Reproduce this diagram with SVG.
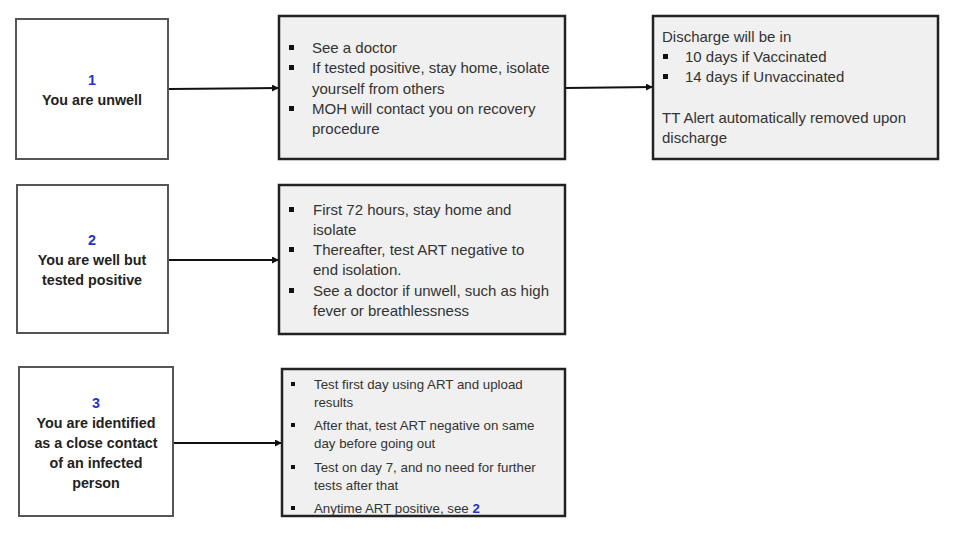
<svg xmlns="http://www.w3.org/2000/svg" width="960" height="551" viewBox="0 0 960 551">
<defs>
<marker id="ah" viewBox="0 0 10 10" refX="10" refY="5" markerWidth="7" markerHeight="7" markerUnits="userSpaceOnUse" orient="auto"><path d="M0,0 L10,5 L0,10 z" fill="#111"/></marker>
<style>
.lbox{fill:#fff;stroke:#555;stroke-width:2}
.rbox{fill:#f0f0f0;stroke:#222;stroke-width:2.5}
.lt{font-family:"Liberation Sans",Arial,sans-serif;font-weight:bold;font-size:14.3px;fill:#222;text-anchor:middle}
.num{fill:#2233cc}
.t{font-family:"Liberation Sans",Arial,sans-serif;font-size:15px;fill:#333}
.s{font-family:"Liberation Sans",Arial,sans-serif;font-size:13.3px;fill:#333}
.b{fill:#111}
.conn{stroke:#111;stroke-width:2;fill:none;marker-end:url(#ah)}
</style>
</defs>
<rect width="960" height="551" fill="#fff"/>
<g id="connectors">
<line class="conn" x1="169" y1="89" x2="279" y2="88"/>
<line class="conn" x1="565" y1="88" x2="653" y2="87"/>
<line class="conn" x1="168" y1="260" x2="279" y2="260"/>
<line class="conn" x1="173" y1="443" x2="282" y2="443"/>
</g>
<g id="n1">
<rect class="lbox" x="16" y="19" width="152" height="140"/>
<text class="lt num" x="92" y="85">1</text>
<text class="lt" x="92" y="105">You are unwell</text>
</g>
<g id="n1a">
<rect class="rbox" x="279" y="16" width="286" height="143"/>
<rect class="b" x="289" y="45" width="5" height="5"/>
<text class="t" x="312" y="53">See a doctor</text>
<rect class="b" x="289" y="65" width="5" height="5"/>
<text class="t" x="312" y="73">If tested positive, stay home, isolate</text>
<text class="t" x="312" y="94">yourself from others</text>
<rect class="b" x="289" y="106" width="5" height="5"/>
<text class="t" x="312" y="114">MOH will contact you on recovery</text>
<text class="t" x="312" y="134">procedure</text>
</g>
<g id="n1b">
<rect class="rbox" x="653" y="16" width="285" height="143"/>
<text class="t" x="662" y="42">Discharge will be in</text>
<rect class="b" x="663" y="54" width="5" height="5"/>
<text class="t" x="685" y="62">10 days if Vaccinated</text>
<rect class="b" x="663" y="74" width="5" height="5"/>
<text class="t" x="685" y="82">14 days if Unvaccinated</text>
<text class="t" x="662" y="123">TT Alert automatically removed upon</text>
<text class="t" x="662" y="143">discharge</text>
</g>
<g id="n2">
<rect class="lbox" x="17" y="185" width="151" height="148"/>
<text class="lt num" x="92" y="245">2</text>
<text class="lt" x="92" y="265">You are well but</text>
<text class="lt" x="92" y="285">tested positive</text>
</g>
<g id="n2a">
<rect class="rbox" x="279" y="185" width="286" height="149"/>
<rect class="b" x="289" y="207" width="5" height="5"/>
<text class="t" x="313" y="215">First 72 hours, stay home and</text>
<text class="t" x="313" y="235">isolate</text>
<rect class="b" x="289" y="247" width="5" height="5"/>
<text class="t" x="313" y="255">Thereafter, test ART negative to</text>
<text class="t" x="313" y="275">end isolation.</text>
<rect class="b" x="289" y="288" width="5" height="5"/>
<text class="t" x="313" y="296">See a doctor if unwell, such as high</text>
<text class="t" x="313" y="316">fever or breathlessness</text>
</g>
<g id="n3">
<rect class="lbox" x="19" y="367" width="154" height="149"/>
<text class="lt num" x="96" y="408">3</text>
<text class="lt" x="96" y="428">You are identified</text>
<text class="lt" x="96" y="448">as a close contact</text>
<text class="lt" x="96" y="468">of an infected</text>
<text class="lt" x="96" y="488">person</text>
</g>
<g id="n3a">
<rect class="rbox" x="282" y="369" width="283" height="147"/>
<rect class="b" x="291" y="382" width="4" height="4"/>
<text class="s" x="314" y="389">Test first day using ART and upload</text>
<text class="s" x="314" y="407">results</text>
<rect class="b" x="291" y="423" width="4" height="4"/>
<text class="s" x="314" y="430">After that, test ART negative on same</text>
<text class="s" x="314" y="448">day before going out</text>
<rect class="b" x="291" y="465" width="4" height="4"/>
<text class="s" x="314" y="472">Test on day 7, and no need for further</text>
<text class="s" x="314" y="490">tests after that</text>
<rect class="b" x="291" y="506" width="4" height="4"/>
<text class="s" x="314" y="513">Anytime ART positive, see <tspan class="num" font-weight="bold">2</tspan></text>
</g>
</svg>
